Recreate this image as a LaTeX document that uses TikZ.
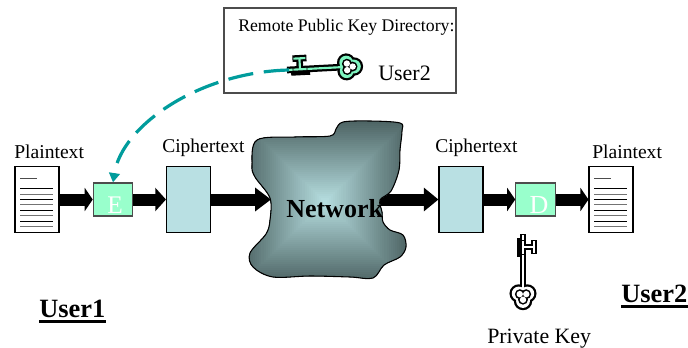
\documentclass[tikz,border=0pt]{standalone}
\usepackage{fontspec}
\setmainfont{Liberation Serif}
\usetikzlibrary{arrows.meta}
\definecolor{mintbox}{HTML}{99FFCC}
\definecolor{cipherbox}{HTML}{B9E0E3}
\definecolor{teal1}{HTML}{009C9C}
\definecolor{keymint}{HTML}{7FF5C0}
\definecolor{netlight}{HTML}{B8E0E2}
\definecolor{netdark}{HTML}{4F6666}
\newcommand{\fs}[1]{\fontsize{#1}{#1}\selectfont}
\newcommand{\netoutline}{plot[smooth cycle,tension=.55] coordinates{(257,140) (295,137) (330,136) (336,129) (343,122) (370,121) (400,123) (402,131) (400,150) (399,170) (391,191) (380,200) (382,212) (383,222) (390,230) (403,235) (406,247) (400,257) (384,265) (373,278) (350,277) (310,276) (273,277) (253,267) (250,253) (266,234) (270,220) (270,198) (255,177) (252,165)}}
\newcommand{\keybody}[1]{%
  \begin{scope}[line cap=butt]
  % outline layer
  \draw[black,line width=5pt] (0,0) -- (54,0);
  \draw[black,line width=4.4pt] (4,3) -- (23,3);
  \draw[black,line width=5pt] (13,0) -- (13,-11);
  \draw[black,line width=5pt] (6,-11) -- (20,-11);
  \foreach \a in {0,120,240}{\fill[black] (62,0) ++(\a:5) circle[radius=9.2];}
  % inner layer
  \draw[#1,line width=1.6pt] (1,0) -- (54,0);
  \draw[#1,line width=1.6pt] (13,0) -- (13,-11);
  \draw[#1,line width=1.6pt] (7,-11) -- (19,-11);
  \foreach \a in {0,120,240}{\fill[#1] (62,0) ++(\a:5) circle[radius=6.9];}
  \foreach \a in {0,120,240}{\fill[black] (62,0) ++(\a:3.6) circle[radius=5];}
  \foreach \a in {0,120,240}{\fill[white] (62,0) ++(\a:3.8) circle[radius=3.2];}
  \draw[black,line width=.5pt] (6,-2) -- (6,2) (20,-2) -- (20,2);
  \end{scope}}
\tikzset{
  x=.75pt,y=-.75pt,
  txt/.style={inner sep=0pt,anchor=base west,text=black},
  docbox/.style={draw=black,fill=white,line width=.8pt,minimum width=33pt,minimum height=49.5pt,inner sep=0pt},
  cipher/.style={draw=black,fill=cipherbox,line width=.8pt,minimum width=33pt,minimum height=49.5pt,inner sep=0pt},
  codec/.style={draw=black!70,fill=mintbox,line width=.9pt,minimum width=29.5pt,minimum height=24.8pt,inner sep=0pt},
  letter/.style={inner sep=0pt,anchor=base,text=white},
  blockarrow/.style={line width=9pt,-{Triangle[length=#1pt,width=17.2pt]},black},
  docline/.style={line width=.7pt},
  pics/keyshape/.style={code={\keybody{#1}}},
}
\begin{document}
\begin{tikzpicture}
\useasboundingbox (0,0) rectangle (688,347);
\fill[white] (0,0) rectangle (688,347);

% boxes
\node[docbox] (doc1) at (37,199.5) {};
\node[codec] (enc) at (113,199.5) {};
\node[cipher] (ci1) at (188.5,199.5) {};
\node[cipher] (ci2) at (461,199.5) {};
\node[codec] (dec) at (535.5,199.5) {};
\node[docbox] (doc2) at (611,199.5) {};
\coordinate (netL) at (271,199.5);
\coordinate (netR) at (375,199.5);

% document text lines
\foreach \d in {doc1,doc2}{
  \draw[docline,black!70] ([xshift=4.5pt,yshift=-9pt]\d.north west) -- ++(17,0);
  \foreach \yy/\cc in {16.5/black,21/black!55,25/black,29/black!55,33/black,37/black!55,41.5/black,45.5/black!55}{
    \draw[docline,\cc] ([xshift=4.5pt,yshift=-\yy pt]\d.north west) -- ++(33,0);
  }
}

% block arrows
\draw[blockarrow=6] (doc1.east) -- (enc.west);
\draw[blockarrow=8] (enc.east) -- (ci1.west);
\draw[blockarrow=12] (ci1.east) -- (netL);
\draw[blockarrow=11] (netR) -- (ci2.west);
\draw[blockarrow=6] (ci2.east) -- (dec.west);
\draw[blockarrow=6] (dec.east) -- (doc2.west);

% network cloud with a rectangular gradient
\begin{scope}
  \clip \netoutline;
  \fill[netdark] (245,118) rectangle (410,282);
  \foreach \k in {0,...,40}{
    \pgfmathsetmacro{\f}{1-\k/40}
    \pgfmathsetmacro{\p}{\k*2.5}
    \pgfmathsetmacro{\rx}{82*\f}
    \pgfmathsetmacro{\ry}{80*\f}
    \fill[netlight!\p!netdark] ({325-\rx},{202-\ry}) rectangle ({325+\rx},{202+\ry});
  }
\end{scope}
\draw[black,line width=.8pt] \netoutline;
\node[txt,font=\fs{19.5}\bfseries] (net) at (286,217) {Network};

% letters in the codecs
\node[letter,font=\fs{19}] (eLetter) at (115,213) {E};
\node[letter,font=\fs{19.5}] (dLetter) at (539,213) {D};

% directory panel
\node[draw=black!70,line width=1.1pt,minimum width=174pt,minimum height=63.75pt,inner sep=0pt] (panel) at (340,50.5) {};
\node[txt,font=\fs{13.3}] (dirTitle) at (238,31) {Remote Public Key Directory:};
\node[txt,font=\fs{16.5}] (dirUser) at (378,80) {User2};

% keys
\pic[rotate=3] at (287,70) {keyshape=keymint};
\pic[rotate=-90] at (523,234) {keyshape=white};
\coordinate (keytail) at (289,70);

% labels
\node[txt,font=\fs{14.7}] (lp1) at (14,158) {Plaintext};
\node[txt,font=\fs{14.6}] (lc1) at (162,152) {Ciphertext};
\node[txt,font=\fs{14.6}] (lc2) at (435,152) {Ciphertext};
\node[txt,font=\fs{14.7}] (lp2) at (592,158) {Plaintext};
\node[txt,font=\fs{16.4}] (lpk) at (487,343) {Private Key};
\node[txt,font=\fs{19.8}\bfseries] (u1) at (39,317) {User1};
\node[txt,font=\fs{19.8}\bfseries] (u2) at (621,302) {User2};
\draw[line width=2.25pt] ([yshift=-3.2pt]u1.base west) -- ([yshift=-3.2pt]u1.base east);
\draw[line width=2.25pt] ([yshift=-3.2pt]u2.base west) -- ([yshift=-3.2pt]u2.base east);

% dashed key retrieval curve
\draw[teal1,line width=2.4pt,dash pattern=on 19pt off 8pt,-{Triangle[length=7pt,width=8pt]}]
  (keytail) .. controls (200,72) and (122,125) .. (enc.north);
\end{tikzpicture}
\end{document}
